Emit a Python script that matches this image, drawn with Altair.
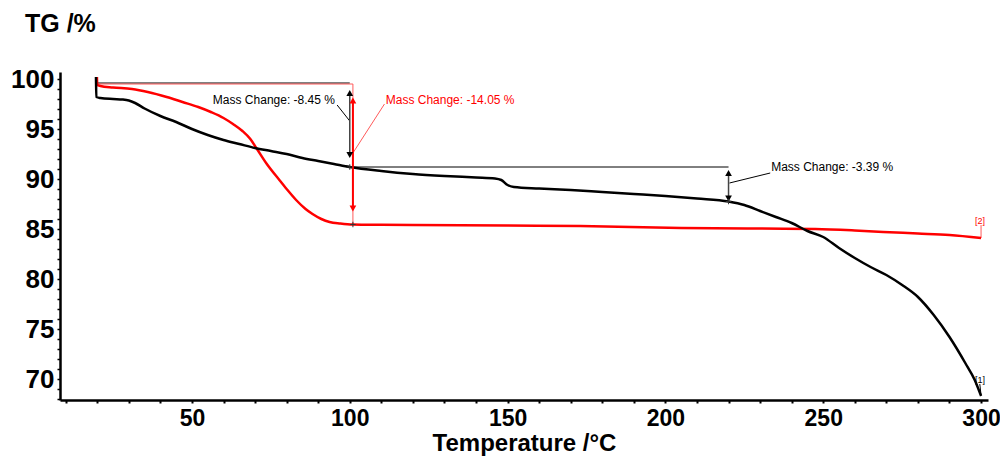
import altair as alt
import pandas as pd

# ---- data ----
black_T = [19.6, 19.7, 21, 25, 28, 30, 32, 35, 40, 45, 50, 55, 60, 65, 70, 75, 80, 85, 90, 95,
           100, 110, 120, 130, 140, 146, 148, 150, 152, 160, 170, 180, 190, 200, 210, 220,
           225, 230, 235, 240, 245, 250, 255, 260, 265, 270, 275, 280, 285, 290, 295, 298, 300]
black_TG = [100.2, 98.2, 98.1, 98.0, 97.95, 97.85, 97.6, 97.05, 96.3, 95.7, 95.0, 94.4, 93.9, 93.5,
            93.1, 92.8, 92.5, 92.1, 91.8, 91.5, 91.2, 90.8, 90.5, 90.3, 90.15, 90.05, 89.9, 89.4,
            89.2, 89.05, 88.9, 88.7, 88.5, 88.3, 88.05, 87.75, 87.4, 86.8, 86.2, 85.6, 84.8, 84.2,
            83.1, 82.1, 81.2, 80.4, 79.4, 78.2, 76.4, 74.2, 71.6, 69.9, 68.3]

red_T = [19.9, 20.0, 21, 25, 31, 36, 42, 47, 52, 56, 60, 63, 66, 68.5, 70.4, 73.5, 77.7, 80,
         83, 86, 88.2, 91, 93.6, 97, 101, 110, 120, 150, 173, 205, 230, 247.5, 260, 269, 280, 290, 300]
red_TG = [100.2, 99.4, 99.3, 99.15, 99.0, 98.7, 98.2, 97.7, 97.2, 96.7, 96.1, 95.5, 94.8, 94.0,
          93.1, 91.6, 89.9, 89.0, 87.9, 87.0, 86.5, 86.0, 85.7, 85.55, 85.45, 85.42, 85.4, 85.35,
          85.3, 85.1, 85.05, 85.0, 84.85, 84.7, 84.55, 84.4, 84.1]

# annotation segments: (T, TG) -> (T2, TG2)
thin_black_T = [19.6, 100, 96, 233.2, 299.6]
thin_black_TG = [99.6, 91.2, 97.4, 90.6, 69.5]
thin_black_T2 = [100, 220, 100, 220.3, 300]
thin_black_TG2 = [99.6, 91.2, 95.8, 89.6, 68.4]

shaft_T = [100, 220]
shaft_TG = [98.7, 90.7]
shaft_TG2 = [92.3, 87.9]

thin_red_T = [19.9, 101, 111, 300]
thin_red_TG = [99.5, 99.5, 97.5, 85.4]
thin_red_T2 = [101, 101, 101, 300]
thin_red_TG2 = [99.5, 85.45, 92.6, 84.1]

red_shaft_T = [101]
red_shaft_TG = [98.0]
red_shaft_TG2 = [86.9]

up_T = [100, 220]
up_TG = [98.6, 90.6]
down_T = [100, 220]
down_TG = [92.4, 88.05]
red_up_T = [101]
red_up_TG = [97.85]
red_down_T = [101]
red_down_TG = [87.05]

cross_T = [100, 101, 220]
cross_TG = [91.2, 85.45, 87.75]

label_text = ["Mass Change: -8.45 %", "Mass Change: -3.39 %"]
label_T = [95.3, 233.5]
label_TG = [97.9, 91.2]
red_label_text = ["Mass Change: -14.05 %"]
red_label_T = [111.4]
red_label_TG = [97.9]

tag_black = ["[1]"]
tag_black_T = [299.7]
tag_black_TG = [69.9]
tag_red = ["[2]"]
tag_red_T = [299.7]
tag_red_TG = [85.8]

x_ticks = list(range(10, 301, 10))
y_ticks = list(range(68, 101, 1))

FONT = "Liberation Sans"

xscale = alt.Scale(domain=[8.2, 302.2], nice=False, zero=False)
yscale = alt.Scale(domain=[67.9, 100.7], nice=False, zero=False)

xaxis = alt.Axis(values=x_ticks, labelExpr="datum.value % 50 == 0 ? datum.label : ''",
                 title="Temperature /°C", labelOverlap=False, grid=False,
                 tickSize=3, tickWidth=2, labelPadding=4, titlePadding=1,
                 labelFontSize=23, titleFontSize=24)
yaxis = alt.Axis(values=y_ticks, labelExpr="datum.value % 5 == 0 ? datum.label : ''",
                 title=None, labelOverlap=False, grid=False,
                 tickSize=3, tickWidth=1.5, labelPadding=3, labelFontSize=26)


def X(field="T"):
    return alt.X(f"{field}:Q", scale=xscale, axis=xaxis)


def Y(field="TG"):
    return alt.Y(f"{field}:Q", scale=yscale, axis=yaxis)


black_df = pd.DataFrame({"T": black_T, "TG": black_TG})
red_df = pd.DataFrame({"T": red_T, "TG": red_TG})

black_line = alt.Chart(black_df).mark_line(color="black", strokeWidth=2.5, interpolate="monotone").encode(
    x=X(), y=Y(), order="T:Q")
red_line = alt.Chart(red_df).mark_line(color="#ff0000", strokeWidth=2.5, interpolate="monotone").encode(
    x=X(), y=Y(), order="T:Q")

thin_black = alt.Chart(pd.DataFrame({"T": thin_black_T, "TG": thin_black_TG,
                                     "T2": thin_black_T2, "TG2": thin_black_TG2})).mark_rule(
    color="black", strokeWidth=1).encode(x=X(), y=Y(), x2="T2:Q", y2="TG2:Q")
thin_red = alt.Chart(pd.DataFrame({"T": thin_red_T, "TG": thin_red_TG,
                                   "T2": thin_red_T2, "TG2": thin_red_TG2})).mark_rule(
    color="#ff5a5a", strokeWidth=1).encode(x=X(), y=Y(), x2="T2:Q", y2="TG2:Q")
shafts = alt.Chart(pd.DataFrame({"T": shaft_T, "TG": shaft_TG, "TG2": shaft_TG2})).mark_rule(
    color="#444444", strokeWidth=1.5).encode(x=X(), y=Y(), y2="TG2:Q")
red_shaft = alt.Chart(pd.DataFrame({"T": red_shaft_T, "TG": red_shaft_TG, "TG2": red_shaft_TG2})).mark_rule(
    color="#ff0000", strokeWidth=2).encode(x=X(), y=Y(), y2="TG2:Q")


def heads(Ts, TGs, shape, color):
    return alt.Chart(pd.DataFrame({"T": Ts, "TG": TGs})).mark_point(
        shape=shape, filled=True, color=color, size=45, opacity=1).encode(x=X(), y=Y())


arrow_layers = [heads(up_T, up_TG, "triangle-up", "black"),
                heads(down_T, down_TG, "triangle-down", "black"),
                heads(red_up_T, red_up_TG, "triangle-up", "#ff0000"),
                heads(red_down_T, red_down_TG, "triangle-down", "#ff0000")]

crosses = alt.Chart(pd.DataFrame({"T": cross_T, "TG": cross_TG})).mark_point(
    shape="M-1,0L1,0M0,-1L0,1", color="#333333", size=30, strokeWidth=1, opacity=1).encode(x=X(), y=Y())

lab1 = alt.Chart(pd.DataFrame({"T": label_T[:1], "TG": label_TG[:1], "txt": label_text[:1]})).mark_text(
    font=FONT, fontSize=12, color="black", align="right", baseline="middle").encode(x=X(), y=Y(), text="txt:N")
lab3 = alt.Chart(pd.DataFrame({"T": label_T[1:], "TG": label_TG[1:], "txt": label_text[1:]})).mark_text(
    font=FONT, fontSize=12, color="black", align="left", baseline="middle").encode(x=X(), y=Y(), text="txt:N")
lab2 = alt.Chart(pd.DataFrame({"T": red_label_T, "TG": red_label_TG, "txt": red_label_text})).mark_text(
    font=FONT, fontSize=12, color="#ff0000", align="left", baseline="middle").encode(x=X(), y=Y(), text="txt:N")
tag1 = alt.Chart(pd.DataFrame({"T": tag_black_T, "TG": tag_black_TG, "txt": tag_black})).mark_text(
    font=FONT, fontSize=9, color="black", align="center", baseline="middle").encode(x=X(), y=Y(), text="txt:N")
tag2 = alt.Chart(pd.DataFrame({"T": tag_red_T, "TG": tag_red_TG, "txt": tag_red})).mark_text(
    font=FONT, fontSize=9, color="#ff0000", align="center", baseline="middle").encode(x=X(), y=Y(), text="txt:N")

chart = alt.layer(
    thin_black, thin_red, red_line, black_line, shafts, red_shaft, *arrow_layers, crosses,
    lab1, lab2, lab3, tag1, tag2
).properties(
    width=928, height=328,
    padding={"left": 52, "top": 64, "right": 12, "bottom": 58},
    autosize=alt.AutoSizeParams(type="none"),
    title=alt.TitleParams("TG /%", anchor="start", frame="group", fontSize=25, font=FONT,
                          fontWeight="bold", color="black", dx=-35, offset=29),
).configure_view(stroke=None).configure_axis(
    domainColor="black", domainWidth=2.5, tickColor="black",
    labelFont=FONT, labelFontWeight="bold", labelColor="black",
    titleFont=FONT, titleFontWeight="bold", titleColor="black",
)

chart.save("out.html", embed_options={"renderer": "svg", "actions": False})
